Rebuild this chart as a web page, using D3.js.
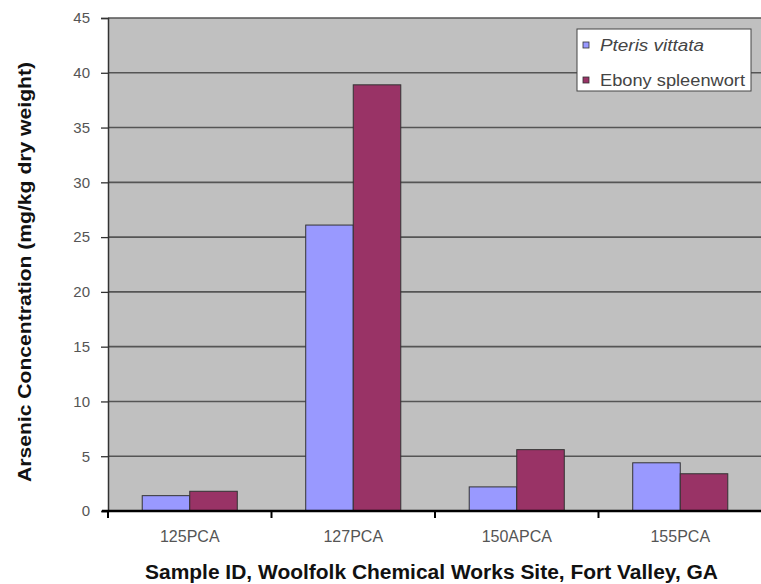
<!DOCTYPE html>
<html><head><meta charset="utf-8">
<script src="https://cdn.jsdelivr.net/npm/d3@7"></script>
<style>body{margin:0;background:#fff;} text{font-family:Arial,"Liberation Sans",sans-serif;}</style>
</head><body>
<svg id="c" width="761" height="584"></svg>
<script>
const categories = ["125PCA","127PCA","150APCA","155PCA"];
const seriesNames = ["Pteris vittata","Ebony spleenwort"];
const pteris = [1.4, 26.1, 2.2, 4.4];
const ebony = [1.8, 38.9, 5.6, 3.4];
const yTicks = [0,5,10,15,20,25,30,35,40,45];
const colors = ["#9999ff","#993366"];

const svg = d3.select("#c");
const L=108, R=761, T=18, B=511;
const x = d3.scaleBand().domain(categories).range([L, L+4*163.5]).paddingInner(0).paddingOuter(0);
const y = d3.scaleLinear().domain([0,45]).range([B,T]);
const xs = d3.scaleBand().domain(seriesNames).range([0,x.bandwidth()]).paddingInner(0).paddingOuter(0.72);

svg.append("rect").attr("x",L).attr("y",T).attr("width",R-L).attr("height",B-T).attr("fill","#c0c0c0");

// gridlines
svg.append("g").selectAll("line").data(yTicks.filter(d=>d>0)).join("line")
  .attr("x1",L).attr("x2",R).attr("y1",d=>y(d)).attr("y2",d=>y(d))
  .attr("stroke","#555").attr("stroke-width",1.6);

const data = categories.map((c,i)=>({c, vals:[pteris[i], ebony[i]]}));
const g = svg.append("g");
data.forEach(d=>{
  d.vals.forEach((v,j)=>{
    g.append("rect").attr("x",x(d.c)+xs(seriesNames[j])).attr("y",y(v))
      .attr("width",xs.bandwidth()).attr("height",y(0)-y(v))
      .attr("fill",colors[j]).attr("stroke","#333").attr("stroke-width",1);
  });
});

// y axis
const ya = d3.axisLeft(y).tickValues(yTicks).tickSize(7).tickPadding(11);
const yg = svg.append("g").attr("transform",`translate(${L},0)`).call(ya);
yg.select(".domain").attr("stroke","#333").attr("stroke-width",1.5);
yg.selectAll(".tick line").attr("stroke","#333").attr("stroke-width",1.3);
yg.selectAll(".tick text").attr("font-size",15).attr("fill","#555").attr("font-family","Arial,'Liberation Sans',sans-serif");

// x axis
const xa = d3.axisBottom(x).tickSize(0).tickPadding(20);
const xg = svg.append("g").attr("transform",`translate(0,${B})`).call(xa);
xg.select(".domain").remove();
xg.selectAll(".tick text").attr("font-size",16).attr("fill","#555").attr("font-family","Arial,'Liberation Sans',sans-serif").attr("dy","0.71em");
svg.append("line").attr("x1",L-6).attr("x2",R).attr("y1",B).attr("y2",B).attr("stroke","#000").attr("stroke-width",2.5);
const bounds = categories.map(c=>x(c)).concat([x(categories[3])+x.bandwidth()]);
svg.append("g").selectAll("line").data(bounds).join("line")
  .attr("x1",d=>d).attr("x2",d=>d).attr("y1",B).attr("y2",B+7).attr("stroke","#000").attr("stroke-width",2);

// titles
svg.append("text").attr("transform","translate(31,272) rotate(-90)").attr("text-anchor","middle")
  .attr("font-size",18).attr("font-weight","bold").attr("fill","#111")
  .attr("textLength",420).attr("lengthAdjust","spacingAndGlyphs")
  .text("Arsenic Concentration (mg/kg dry weight)");
svg.append("text").attr("x",431.5).attr("y",579).attr("text-anchor","middle")
  .attr("font-size",20).attr("font-weight","bold").attr("fill","#111")
  .attr("textLength",573).attr("lengthAdjust","spacingAndGlyphs")
  .text("Sample ID, Woolfolk Chemical Works Site, Fort Valley, GA");

// legend
const lg = svg.append("g");
lg.append("rect").attr("x",577).attr("y",29).attr("width",174).attr("height",62).attr("fill","#fff").attr("stroke","#444").attr("stroke-width",1);
const legLens = [104,145];
seriesNames.forEach((s,i)=>{
  const yy = 45 + i*35;
  lg.append("rect").attr("x",583).attr("y",yy-3).attr("width",6).attr("height",6).attr("fill",colors[i]).attr("stroke","#333").attr("stroke-width",0.8);
  lg.append("text").attr("x",600).attr("y",yy+6).attr("font-size",16).attr("fill","#444")
    .attr("textLength",legLens[i]).attr("lengthAdjust","spacingAndGlyphs")
    .attr("font-style",i===0?"italic":"normal").text(s);
});
</script>
</body></html>
